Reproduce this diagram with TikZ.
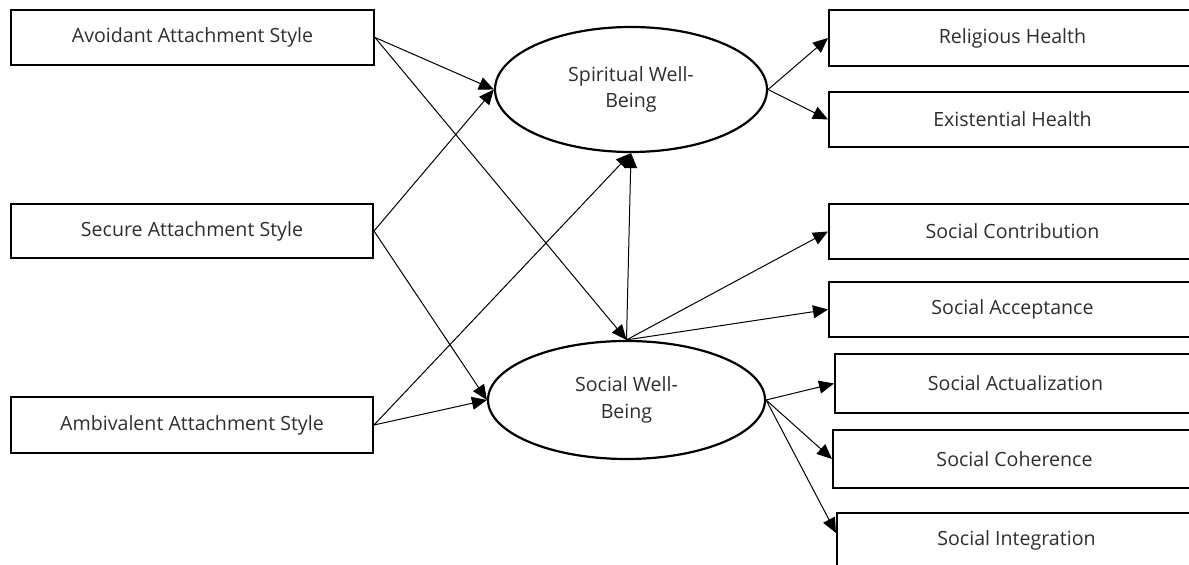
\documentclass[tikz,border=0pt]{standalone}
\usepackage{fontspec}
\setmainfont{Open Sans}
\usetikzlibrary{arrows.meta,shapes.geometric}
\begin{document}
\begin{tikzpicture}[x=0.5pt,y=-0.5pt,
  txt/.style={text=black!82,font=\fontsize{9.8}{13.2}\selectfont},
  box/.style={txt,draw,line width=1pt,rectangle,inner sep=0pt,minimum width=#1},
  lat/.style={txt,draw,line width=1.1pt,ellipse,inner sep=0pt,align=center},
  arr/.style={line width=0.5pt,-{Triangle[length=7.5pt,width=6.5pt]}}]
\useasboundingbox (0,0) rectangle (1189,565);
\clip (0,0) rectangle (1189,565);
% left boxes
\node[box=181.5pt,minimum height=27.5pt] (av) at (192.5,37.5) {Avoidant Attachment Style};
\node[box=181pt,minimum height=27pt] (se) at (192,231) {Secure Attachment Style};
\node[box=181pt,minimum height=28pt] (am) at (192,425) {Ambivalent Attachment Style};
% latent variables
\node[lat,minimum width=136pt,minimum height=62.5pt] (sp) at (631,89.5) {Spiritual Well-\\Being};
\node[lat,minimum width=138.5pt,minimum height=59pt] (so) at (626.5,400) {Social Well-\\Being};
% right boxes
\node[box=183.5pt,minimum height=28pt] (rh) at (1012.5,38) {Religious Health};
\node[box=183.5pt,minimum height=27.5pt] (eh) at (1012.5,119.5) {Existential Health};
\node[box=183.5pt,minimum height=27.5pt] (sc) at (1012.5,231.5) {Social Contribution};
\node[box=183.5pt,minimum height=27.5pt] (sa) at (1012.5,309.5) {Social Acceptance};
\node[box=180.5pt,minimum height=29.5pt] (sz) at (1015.5,383.5) {Social Actualization};
\node[box=181.5pt,minimum height=29pt] (sh) at (1014.5,459) {Social Coherence};
\node[box=179.5pt,minimum height=27pt] (si) at (1016.5,540) {Social Integration};
\coordinate (siin) at ([yshift=3.5pt]si.west);
% connectors
\draw[arr] (av.east) -- (sp.west);
\draw[arr] (av.east) -- (so.north);
\draw[arr] (se.east) -- (sp.west);
\draw[arr] (se.east) -- (so.west);
\draw[arr] (am.east) -- (sp.south);
\draw[arr] (am.east) -- (so.west);
\draw[arr] (so.north) -- (sp.south);
\draw[arr] (sp.east) -- (rh.west);
\draw[arr] (sp.east) -- (eh.west);
\draw[arr] (so.north) -- (sc.west);
\draw[arr] (so.north) -- (sa.west);
\draw[arr] (so.east) -- (sz.west);
\draw[arr] (so.east) -- (sh.west);
\draw[arr] (so.east) -- (siin);
\end{tikzpicture}
\end{document}
